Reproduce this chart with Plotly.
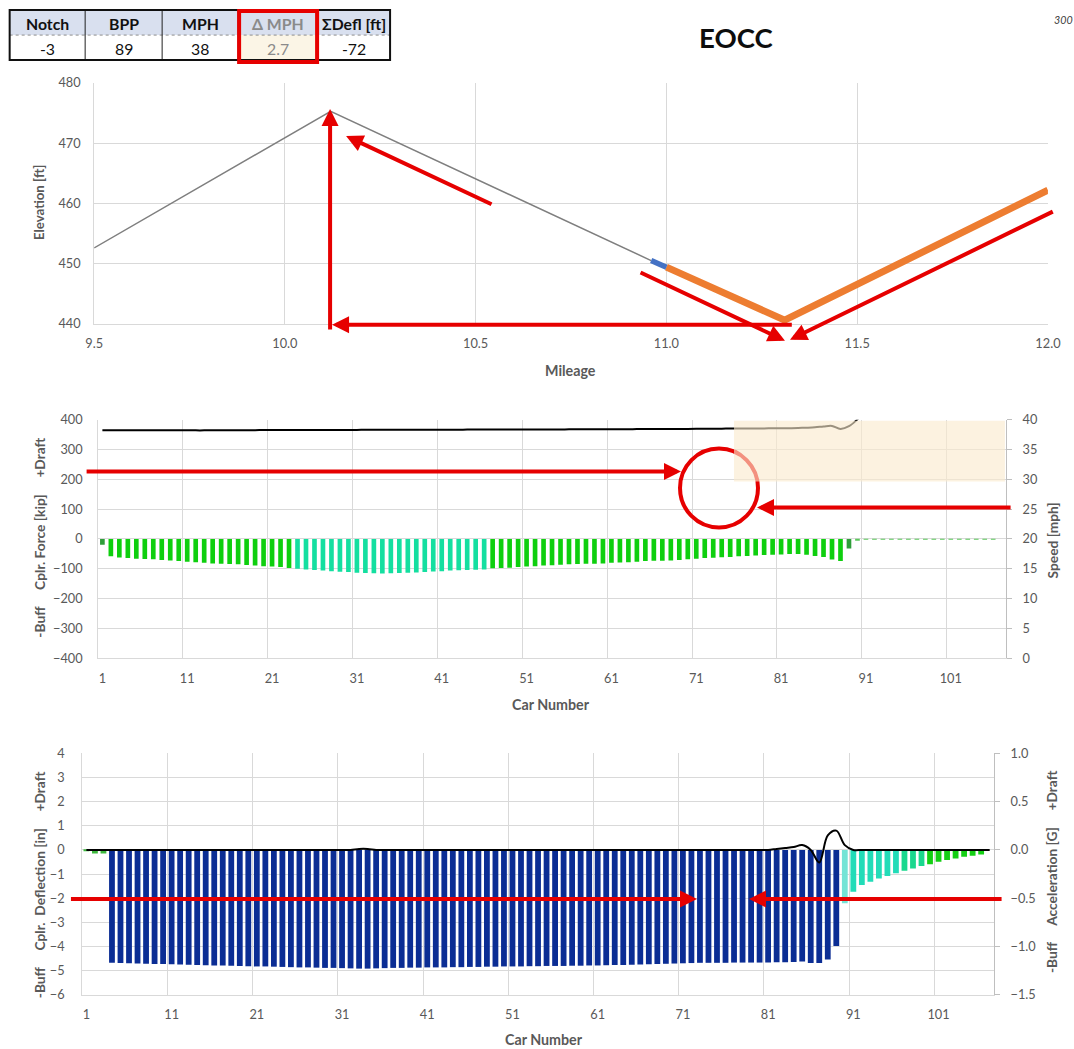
import plotly.graph_objects as go

# target page size; the rendered page shows the figure after an 8 px body
# margin and a slight uniform zoom, so layout positions are given in page
# pixels and converted into figure fractions below
W, H = 1074, 1049
M = 8
SX, SY = 0.980, 0.986
FW, FH = round(W / SX - M), round(H / SY - M)
FS = 1.0 / SX

FONT = "Lato"
GREY_TXT = "#595959"
GRID = "#d9d9d9"
RED = "#e60000"

# ---------------- data ----------------
table_headers = ["Notch", "BPP", "MPH", "\u0394 MPH", "\u03a3Defl [ft]"]
table_values = ["-3", "89", "38", "2.7", "-72"]

# elevation profile (mileage, ft)
mile_grey = [9.5, 10.12, 10.96]
elev_grey = [452.6, 475.3, 450.5]
mile_blue = [10.96, 11.0]
elev_blue = [450.5, 449.4]
mile_train = [11.0, 11.31, 12.0]
elev_train = [449.4, 440.6, 462.2]

cars = list(range(1, 108))

# coupler force [kip] per car
force = [
    -19,
    -58, -62, -64, -66, -67, -68, -70, -72, -74, -76,
    -78, -80, -82, -83, -84, -85, -87, -89, -91, -92,
    -94, -97,
    -100, -102, -104, -106, -108, -110, -111, -113, -114, -115,
    -116, -115, -114, -113, -112, -111, -109, -108, -106, -105,
    -104, -103, -102,
    -98, -97, -96, -94, -92, -91, -89, -88, -86, -85,
    -84, -83, -83, -82, -80, -79, -78, -76, -74, -73,
    -73, -72, -70, -68, -66, -64, -63, -61, -60, -58,
    -57, -55, -54, -53, -52, -50, -50, -53, -57, -60,
    -69, -74,
    -32, -6,
    -2, -2, -2, -2, -2, -2, -2, -2, -2, -2, -2, -2, -2, -2, -2, -2,
    0,
]

# train speed [mph] per car
speed = [
    38.20, 38.20, 38.20, 38.20, 38.20, 38.20, 38.20, 38.20, 38.20, 38.20,
    38.20, 38.20, 38.20, 38.22, 38.22, 38.23, 38.23, 38.24, 38.24, 38.25,
    38.25, 38.25, 38.26, 38.26, 38.26, 38.27, 38.27, 38.27, 38.28, 38.28,
    38.28, 38.29, 38.29, 38.29, 38.30, 38.30, 38.30, 38.31, 38.31, 38.31,
    38.32, 38.32, 38.32, 38.33, 38.33, 38.33, 38.34, 38.34, 38.34, 38.35,
    38.35, 38.35, 38.36, 38.36, 38.36, 38.37, 38.37, 38.38, 38.38, 38.39,
    38.39, 38.40, 38.40, 38.41, 38.41, 38.42, 38.42, 38.43, 38.44, 38.45,
    38.46, 38.47, 38.48, 38.49, 38.50, 38.50, 38.51, 38.52, 38.53, 38.54,
    38.55, 38.57, 38.60, 38.65, 38.72, 38.85, 38.95, 38.45, 38.90, 40.05,
    41.60,
]

# coupler deflection [in] per car
deflection = [
    -0.04, -0.15, -0.15,
    -4.67, -4.68, -4.69, -4.70, -4.71, -4.72, -4.72, -4.73, -4.74, -4.75,
    -4.76, -4.77, -4.78, -4.78, -4.79, -4.80, -4.81, -4.82, -4.82, -4.83,
    -4.84, -4.85, -4.86, -4.86, -4.87, -4.88, -4.88, -4.89, -4.90, -4.91,
    -4.91, -4.90, -4.89, -4.88, -4.88, -4.87, -4.87, -4.86, -4.86, -4.86,
    -4.85, -4.85, -4.84, -4.84, -4.83, -4.83, -4.82, -4.82, -4.82, -4.81,
    -4.81, -4.80, -4.80, -4.80, -4.79, -4.79, -4.78, -4.78, -4.77, -4.76,
    -4.76, -4.75, -4.74, -4.73, -4.72, -4.71, -4.70, -4.69, -4.68, -4.67,
    -4.67, -4.67, -4.67, -4.66, -4.66, -4.66, -4.66, -4.66, -4.65, -4.65,
    -4.64, -4.62, -4.68, -4.68, -4.53, -3.97,
    -2.21, -1.73, -1.45, -1.32, -1.18, -1.08, -0.97, -0.86, -0.77, -0.67,
    -0.59, -0.49, -0.42, -0.35, -0.28, -0.24, -0.19,
    0.0,
]

# car acceleration [G] per car
accel = [
    0.00, 0.00, 0.00, 0.00, 0.00, 0.00, 0.00, 0.00, 0.00, 0.00,
    0.00, 0.00, 0.00, 0.00, 0.00, 0.00, 0.00, 0.00, 0.00, 0.00,
    0.00, 0.00, 0.00, 0.00, 0.00, 0.00, 0.00, 0.00, 0.00, 0.00,
    0.00, 0.00, 0.01, 0.01, 0.00, 0.00, 0.00, 0.00, 0.00, 0.00,
    0.00, 0.00, 0.00, 0.00, 0.00, 0.00, 0.00, 0.00, 0.00, 0.00,
    0.00, 0.00, 0.00, 0.00, 0.00, 0.00, 0.00, 0.00, 0.00, 0.00,
    0.00, 0.00, 0.00, 0.00, 0.00, 0.00, 0.00, 0.00, 0.00, 0.00,
    0.00, 0.00, 0.00, 0.00, 0.00, 0.00, 0.00, 0.00, 0.00, 0.00,
    0.00, 0.01, 0.02, 0.03, 0.05, 0.00, -0.13, 0.15, 0.20, 0.05,
    0.00, 0.00, 0.00, 0.00, 0.00, 0.00, 0.00, 0.00, 0.00, 0.00,
    0.00, 0.00, 0.00, 0.00, 0.00, 0.00, 0.00,
]

car_ticks = [1, 11, 21, 31, 41, 51, 61, 71, 81, 91, 101]
car_bounds = [10.5, 20.5, 30.5, 40.5, 50.5, 60.5, 70.5, 80.5, 90.5, 100.5]


# ---------------- colours ----------------
def force_colour(car):
    if car in (1, 89):
        return "#2f9e3a"
    if 24 <= car <= 46:
        return "#14dfa0"
    if car >= 90:
        return "#5cc85c"
    return "#0ecf0e"


def defl_colour(car):
    if car <= 3:
        return "#3cb83c"
    if car <= 89:
        return "#0b2d94"
    if car == 90:
        return "#74e4d6"
    if car <= 96:
        return "#22dcb8"
    if car <= 99:
        return "#1ad88e"
    return "#14cf14"


# page pixel -> paper fraction
def px(x):
    return (x / SX - M) / FW


def py(y):
    return 1 - (y / SY - M) / FH


fig = go.Figure()

# ---------------- elevation chart ----------------
fig.add_trace(go.Scatter(x=mile_grey, y=elev_grey, mode="lines",
                         line=dict(color="#7f7f7f", width=1.5),
                         xaxis="x", yaxis="y"))
fig.add_trace(go.Scatter(x=mile_train, y=elev_train, mode="lines",
                         line=dict(color="#ed7d31", width=7),
                         xaxis="x", yaxis="y"))
fig.add_trace(go.Scatter(x=mile_blue, y=elev_blue, mode="lines",
                         line=dict(color="#4472c4", width=5.5),
                         xaxis="x", yaxis="y"))

# ---------------- coupler force / speed ----------------
fig.add_trace(go.Bar(x=cars, y=force, width=0.55,
                     marker=dict(color=[force_colour(c) for c in cars], line=dict(width=0)),
                     xaxis="x2", yaxis="y2"))
fig.add_trace(go.Scatter(x=cars[:len(speed)], y=speed, mode="lines",
                         line=dict(color="black", width=2, shape="spline"),
                         xaxis="x2", yaxis="y3"))

# ---------------- deflection / acceleration ----------------
fig.add_trace(go.Bar(x=cars, y=deflection, width=0.68,
                     marker=dict(color=[defl_colour(c) for c in cars], line=dict(width=0)),
                     xaxis="x3", yaxis="y4"))
fig.add_trace(go.Scatter(x=cars, y=accel, mode="lines",
                         line=dict(color="black", width=2, shape="spline"),
                         xaxis="x3", yaxis="y5"))

tickfont = dict(family=FONT, size=12.5 * FS, color=GREY_TXT)

car_axis = dict(range=[0.5, 107.5], tickmode="array", tickvals=car_ticks,
                showgrid=False, zeroline=False, showline=True, linecolor=GRID,
                ticks="", tickfont=tickfont, ticklabelstandoff=8,
                minor=dict(tickmode="array", tickvals=car_bounds, showgrid=True,
                           gridcolor=GRID, gridwidth=1, ticks=""))

fig.update_layout(
    width=FW, height=FH, autosize=False,
    margin=dict(l=0, r=0, t=0, b=0),
    paper_bgcolor="white", plot_bgcolor="white",
    showlegend=False,
    font=dict(family=FONT, color=GREY_TXT),
    xaxis=dict(domain=[px(93), px(1047)], anchor="y", range=[9.5, 12.0],
               tickmode="linear", tick0=9.5, dtick=0.5, tickformat=".1f",
               showgrid=True, gridcolor=GRID, zeroline=False, showline=True,
               linecolor=GRID, ticks="", tickfont=tickfont, ticklabelstandoff=8),
    yaxis=dict(domain=[py(323), py(82)], anchor="x", range=[440, 480],
               tickmode="linear", tick0=440, dtick=10,
               showgrid=True, gridcolor=GRID, zeroline=False, showline=True,
               linecolor=GRID, ticks="", tickfont=tickfont, ticklabelstandoff=10),
    xaxis2=dict(domain=[px(97), px(1005)], anchor="y2", **car_axis),
    yaxis2=dict(domain=[py(658), py(419)], anchor="x2", range=[-400, 400],
                tickmode="linear", tick0=-400, dtick=100,
                showgrid=True, gridcolor=GRID, zeroline=False, showline=True,
                linecolor=GRID, ticks="", tickfont=tickfont, ticklabelstandoff=12),
    yaxis3=dict(overlaying="y2", side="right", anchor="x2", range=[0, 40],
                tickmode="linear", tick0=0, dtick=5,
                showgrid=False, zeroline=False, showline=True, linecolor="#bfbfbf",
                ticks="outside", ticklen=5, tickcolor="#bfbfbf",
                tickfont=tickfont, ticklabelstandoff=8),
    xaxis3=dict(domain=[px(81), px(993)], anchor="y4", **car_axis),
    yaxis4=dict(domain=[py(995), py(753)], anchor="x3", range=[-6, 4],
                tickmode="linear", tick0=-6, dtick=1,
                showgrid=True, gridcolor=GRID, zeroline=False, showline=True,
                linecolor=GRID, ticks="", tickfont=tickfont, ticklabelstandoff=14),
    yaxis5=dict(overlaying="y4", side="right", anchor="x3", range=[-1.5, 1.0],
                tickmode="linear", tick0=-1.5, dtick=0.5, tickformat=".1f",
                showgrid=False, zeroline=False, showline=True, linecolor="#bfbfbf",
                ticks="outside", ticklen=5, tickcolor="#bfbfbf",
                tickfont=tickfont, ticklabelstandoff=8),
)

shapes = []
annotations = []

# ---------------- summary table ----------------
col_x = [8.5, 84, 161, 237, 317, 389]
row_y = [9, 34, 59]
shapes.append(dict(type="rect", xref="paper", yref="paper", x0=px(col_x[0]), x1=px(col_x[-1]),
                   y0=py(row_y[1]), y1=py(row_y[0]), fillcolor="#d9e0ef",
                   line=dict(width=0), layer="above"))
shapes.append(dict(type="rect", xref="paper", yref="paper", x0=px(col_x[3]), x1=px(col_x[4]),
                   y0=py(row_y[2]), y1=py(row_y[1]), fillcolor="#fbf5e6",
                   line=dict(width=0), layer="above"))
shapes.append(dict(type="line", xref="paper", yref="paper", x0=px(col_x[0]), x1=px(col_x[-1]),
                   y0=py(row_y[1]), y1=py(row_y[1]),
                   line=dict(color="#8c8c8c", width=1, dash="dot"), layer="above"))
for cx in col_x[1:-1]:
    shapes.append(dict(type="line", xref="paper", yref="paper", x0=px(cx), x1=px(cx),
                       y0=py(row_y[2]), y1=py(row_y[0]),
                       line=dict(color="#202020", width=1), layer="above"))
shapes.append(dict(type="rect", xref="paper", yref="paper", x0=px(col_x[0]), x1=px(col_x[-1]),
                   y0=py(row_y[2]), y1=py(row_y[0]),
                   line=dict(color="#101010", width=2), layer="above"))
shapes.append(dict(type="rect", xref="paper", yref="paper", x0=px(238), x1=px(316),
                   y0=py(61), y1=py(10), line=dict(color=RED, width=4), layer="above"))

for i, (hdr, val) in enumerate(zip(table_headers, table_values)):
    cxm = (col_x[i] + col_x[i + 1]) / 2
    dim = (i == 3)
    annotations.append(dict(xref="paper", yref="paper", x=px(cxm), y=py(22),
                            text="<b>%s</b>" % hdr, showarrow=False,
                            xanchor="center", yanchor="middle",
                            font=dict(family=FONT, size=15.5 * FS,
                                      color="#8a8a8a" if dim else "#111111")))
    annotations.append(dict(xref="paper", yref="paper", x=px(cxm), y=py(47),
                            text=val, showarrow=False,
                            xanchor="center", yanchor="middle",
                            font=dict(family=FONT, size=15.5 * FS,
                                      color="#8a8a8a" if dim else "#111111")))

annotations.append(dict(xref="paper", yref="paper", x=px(735), y=py(36),
                        text="<b>EOCC</b>", showarrow=False,
                        xanchor="center", yanchor="middle",
                        font=dict(family=FONT, size=27 * FS, color="#0d0d0d")))
annotations.append(dict(xref="paper", yref="paper", x=px(1051), y=py(18),
                        text="<i>300</i>", showarrow=False,
                        xanchor="left", yanchor="middle",
                        font=dict(family=FONT, size=10.5 * FS, color="#404040")))


# ---------------- axis titles ----------------
def title(x, y, text, angle=0, size=13.5):
    annotations.append(dict(xref="paper", yref="paper", x=px(x), y=py(y),
                            text="<b>%s</b>" % text, showarrow=False, textangle=angle,
                            xanchor="center", yanchor="middle",
                            font=dict(family=FONT, size=size * FS, color=GREY_TXT)))


NB = "\u00a0"
title(569, 370, "Mileage", size=14)
title(38, 202, "Elevation [ft]", -90, 13)
title(550, 704, "Car Number", size=14)
title(38, 537, "-Buff" + NB * 5 + "Cplr. Force [kip]" + NB * 5 + "+Draft", -90, 13.5)
title(1052, 540, "Speed [mph]", -90, 13.5)
title(543, 1040, "Car Number", size=14)
title(38, 885, "-Buff" + NB * 5 + "Cplr." + NB * 2 + "Deflection [in]" + NB * 5 + "+Draft", -90, 13.5)
title(1050, 871, "-Buff" + NB * 5 + "Acceleration [G]" + NB * 5 + "+Draft", -90, 13.5)


# ---------------- red callouts ----------------
def arrow(tail, head):
    annotations.append(dict(xref="paper", yref="paper", x=px(head[0]), y=py(head[1]),
                            axref="pixel", ayref="pixel",
                            ax=(tail[0] - head[0]) / SX, ay=(tail[1] - head[1]) / SY,
                            text="", showarrow=True, arrowhead=2, arrowsize=0.85,
                            arrowwidth=4, arrowcolor=RED, standoff=0, startstandoff=0))


arrow((329, 327), (329, 108))
arrow((783, 324), (331, 324))
arrow((489, 203), (345, 135))
arrow((641, 272), (784, 340))
arrow((1048, 212), (789, 339))
arrow((96, 471), (680, 471))
arrow((1006, 507), (756, 507))
arrow((81, 899), (696, 899))
arrow((997, 899), (748, 899))

shapes.append(dict(type="circle", xref="paper", yref="paper",
                   x0=px(679), x1=px(757), y0=py(527), y1=py(448),
                   line=dict(color=RED, width=4), layer="above"))
# translucent highlight band over the speed trace
shapes.append(dict(type="rect", xref="paper", yref="paper",
                   x0=px(733), x1=px(1004), y0=py(481), y1=py(420),
                   fillcolor="rgba(250,234,205,0.62)", line=dict(width=0), layer="above"))

fig.update_layout(shapes=shapes, annotations=annotations)

fig.write_html("out.html")
